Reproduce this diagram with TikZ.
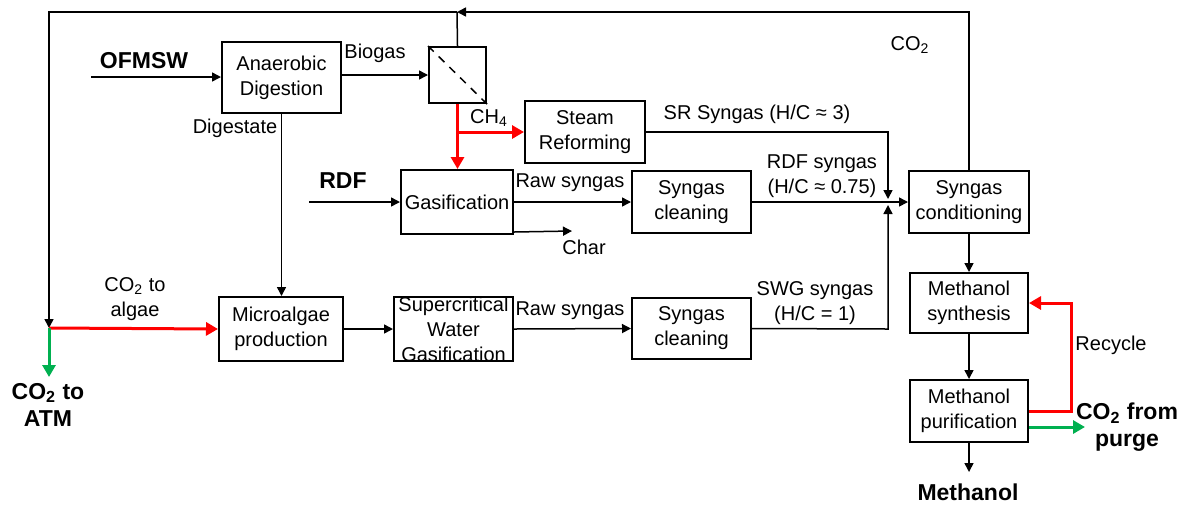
\documentclass[tikz,border=0pt]{standalone}
\usepackage{fontspec}
\setmainfont{Liberation Sans}
\usetikzlibrary{arrows.meta}
\definecolor{flowgreen}{RGB}{0,176,80}
\begin{document}
\begin{tikzpicture}[x=0.5pt,y=-0.5pt,
  font=\fontsize{10}{12.5}\selectfont,
  box/.style={draw,line width=1pt,align=center,inner sep=0pt},
  lbl/.style={inner sep=0pt,align=center},
  big/.style={inner sep=0pt,align=center,font=\fontsize{11.5}{13.5}\selectfont\bfseries},
  wire/.style={line width=0.75pt},
  flow/.style={line width=0.75pt,-{Triangle[length=4.5pt,width=4.5pt]}},
  redflow/.style={line width=1.5pt,red,-{Triangle[length=6pt,width=6.5pt]}},
  greenflow/.style={line width=1.5pt,flowgreen,-{Triangle[length=6pt,width=6.5pt]}}
]
\useasboundingbox (0,0) rectangle (1187,505);

% boxes
\node[box,minimum width=59.5pt,minimum height=35.5pt] (ad) at (281.5,77.5) {Anaerobic\\Digestion};
\node[box,minimum width=28.5pt,minimum height=28pt] (sep) at (457.5,75) {};
\node[box,minimum width=60pt,minimum height=31pt] (sr) at (585,132) {Steam\\Reforming};
\node[box,minimum width=56pt,minimum height=32pt] (gas) at (457,202) {Gasification};
\node[box,minimum width=59.5pt,minimum height=31pt] (sc1) at (691.5,202) {Syngas\\cleaning};
\node[box,minimum width=60pt,minimum height=31pt] (cond) at (969,202) {Syngas\\conditioning};
\node[box,minimum width=62pt,minimum height=32pt] (micro) at (281,329) {Microalgae\\production};
\node[box,minimum width=59.5pt,minimum height=32pt] (scwg) at (453.5,329) {Supercritical\\Water\\Gasification};
\node[box,minimum width=59.5pt,minimum height=30.5pt] (sc2) at (691.5,328.5) {Syngas\\cleaning};
\node[box,minimum width=59pt,minimum height=30pt] (msyn) at (969,303) {Methanol\\synthesis};
\node[box,minimum width=59pt,minimum height=31pt] (mpur) at (969,411) {Methanol\\purification};

% separator diagonal
\draw[line width=0.75pt,dash pattern=on 4pt off 3.5pt] (sep.north west) -- (sep.south east);

% coordinates
\coordinate (ofin) at (91,77);
\coordinate (rdfin) at (309,202);
\coordinate (jtop) at (457,12);
\coordinate (ctop) at (969,12);
\coordinate (tl) at (49,12);
\coordinate (jl) at (49,328);
\coordinate (atm) at (49,377);
\coordinate (rb) at (457.5,132);
\coordinate (srr) at (888,132);
\coordinate (jm) at (888,202);
\coordinate (swr) at (888,329);
\coordinate (char) at (572,231);
\coordinate (rc) at (1071,411);
\coordinate (rct) at (1071,303);
\coordinate (purge) at (1085,427);
\coordinate (meoh) at (969,472);

% black flows
\draw[flow] (ofin) -- (ofin -| ad.west);
\draw[flow] (ad.east |- sep) -- (sep.west);
\draw[flow] (rdfin) -- (gas.west);
\draw[wire] (sep.north) -- (jtop);
\draw[flow] (cond.north) -- (ctop) -- (jtop);
\draw[flow] (jtop) -- (tl) -- (jl);
\draw[flow] (ad.south) -- (ad.south |- micro.north);
\draw[flow] (gas.east) -- (sc1.west);
\draw[flow] (gas.south east) ++(0,-3) -- (char);
\draw[flow] (sc1.east) -- (cond.west);
\draw[flow] (sr.east) -- (srr) -- ([yshift=1.5pt]jm);
\draw[flow] (sc2.east) -- (swr) -- ([yshift=-1.5pt]jm);
\draw[flow] (micro.east) -- (scwg.west);
\draw[flow] (scwg.east) -- (sc2.west);
\draw[flow] (cond.south) -- (msyn.north);
\draw[flow] (msyn.south) -- (mpur.north);
\draw[flow] (mpur.south) -- (meoh);

% red flows
\draw[redflow] (sep.south) -- (sep.south |- gas.north);
\draw[redflow] (rb) -- (sr.west);
\draw[redflow] (jl) -- (micro.west);
\draw[redflow] (mpur.east) -- (rc) -- (rct) -- (msyn.east);

% green flows
\draw[greenflow] (jl) -- (atm);
\draw[greenflow] ([yshift=-8pt]mpur.east) -- (purge);

% labels
\node[big] (lofmsw) at (144,61) {OFMSW};
\node[big] (lrdf) at (343,181) {RDF};
\node[lbl] (lbiogas) at (375,53) {Biogas};
\node[lbl] (ldig) at (235,128) {Digestate};
\node[lbl] (lch4) at (489,118) {CH\textsubscript{4}};
\node[lbl] (lsr) at (757,114) {SR Syngas (H/C ≈ 3)};
\node[lbl] (lraw1) at (570,183) {Raw syngas};
\node[lbl] (lchar) at (584,247) {Char};
\node[lbl] (lrdfs) at (822,176) {RDF syngas\\(H/C ≈ 0.75)};
\node[lbl] (lco2) at (910,45) {CO\textsubscript{2}};
\node[lbl] (lalg) at (135,299.5) {CO\textsubscript{2} to\\algae};
\node[lbl] (lraw2) at (570,311) {Raw syngas};
\node[lbl] (lswg) at (815,303) {SWG syngas\\(H/C = 1)};
\node[lbl] (lrec) at (1111,345) {Recycle};
\node[big] (latm) at (48,404.5) {CO\textsubscript{2} to\\ATM};
\node[big] (lpurge) at (1127,427.5) {CO\textsubscript{2} from\\purge};
\node[big] (lmeoh) at (968,492) {Methanol};
\end{tikzpicture}
\end{document}
